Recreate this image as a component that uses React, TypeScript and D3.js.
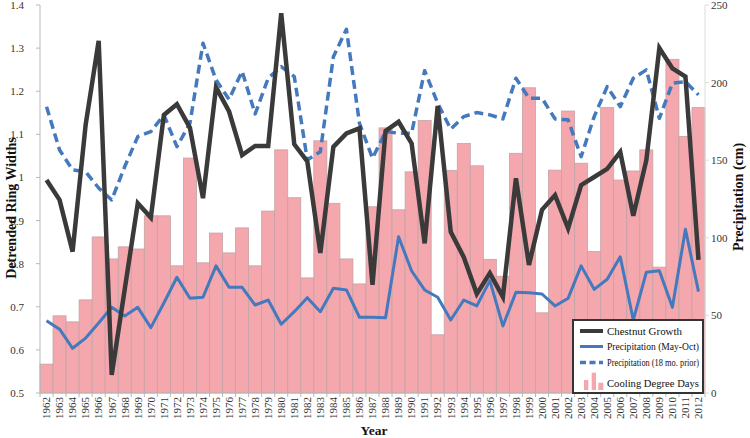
import React from "react";
import * as d3 from "d3";

const years: number[] = d3.range(1962, 2013);

// Detrended ring widths (left axis)
const chestnutGrowth: number[] = [
  0.994, 0.948, 0.828, 1.122, 1.317, 0.542, 0.741, 0.94, 0.907, 1.145,
  1.17, 1.115, 0.952, 1.209, 1.153, 1.052, 1.073, 1.073, 1.381, 1.077,
  1.037, 0.825, 1.071, 1.102, 1.114, 0.751, 1.108, 1.129, 1.079, 0.847,
  1.166, 0.874, 0.815, 0.73, 0.778, 0.723, 0.998, 0.797, 0.925, 0.959,
  0.882, 0.982, 1.001, 1.02, 1.059, 0.911, 1.04, 1.3, 1.253, 1.234, 0.809,
];

// Precipitation May-Oct (cm, right axis)
const precipMayOct: number[] = [
  46.6, 41.1, 28.8, 35.4, 45.1, 55.2, 49.6, 55.2, 42.1, 58.0,
  74.6, 61.0, 61.7, 81.9, 68.1, 68.1, 56.7, 59.9, 44.3, 52.4,
  61.4, 52.4, 67.5, 66.4, 48.8, 48.8, 48.5, 100.7, 78.6, 66.4,
  61.7, 47.0, 59.9, 56.1, 72.4, 43.2, 64.9, 64.6, 63.8, 56.1,
  61.0, 81.9, 66.8, 73.3, 87.8, 47.0, 77.8, 78.8, 55.2, 105.5, 65.3,
];

// Precipitation 18 months prior (cm, right axis)
const precip18mo: number[] = [
  184.5, 156.6, 143.7, 142.6, 132.1, 124.4, 145.9, 165.2, 168.4, 179.2,
  158.7, 173.8, 225.4, 201.7, 189.2, 207.3, 179.8, 202.8, 210.3, 203.9,
  150.2, 155.5, 216.7, 234.4, 173.8, 151.3, 168.4, 167.4, 167.4, 207.7,
  186.7, 170.0, 178.1, 180.7, 179.2, 176.6, 202.8, 189.9, 189.9, 176.6,
  176.0, 152.3, 178.1, 197.4, 184.5, 202.8, 208.2, 177.0, 199.6, 200.6, 192.1,
];

// Cooling degree days (relative index on hidden axis)
const coolingDegreeDays: number[] = [
  0.567, 0.679, 0.665, 0.716, 0.862, 0.811, 0.839, 0.834, 0.911, 0.911,
  0.795, 1.045, 0.802, 0.871, 0.825, 0.883, 0.795, 0.922, 1.064, 0.953,
  0.767, 1.085, 0.94, 0.811, 0.753, 0.932, 1.115, 0.925, 1.013, 1.132,
  0.635, 1.016, 1.079, 1.027, 0.81, 0.771, 1.056, 1.208, 0.686, 1.017,
  1.154, 1.033, 0.828, 1.162, 0.994, 1.015, 1.064, 0.792, 1.274, 1.095, 1.162,
];

const leftTicks: number[] = [0.5, 0.6, 0.7, 0.8, 0.9, 1.0, 1.1, 1.2, 1.3, 1.4];
const rightTicks: number[] = [0, 50, 100, 150, 200, 250];

const legendLabels: string[] = [
  "Chestnut Growth",
  "Precipitation (May-Oct)",
  "Precipitation (18 mo. prior)",
  "Cooling Degree Days",
];

const FONT = "'Liberation Serif', 'Times New Roman', Times, serif";

export default function App() {
  const W = 750, H = 438;
  const left = 40, right = 705, top = 5, bottom = 393;

  const x = d3.scaleBand<string>().domain(years.map(String)).range([left, right]).padding(0);
  const yL = d3.scaleLinear().domain([0.5, 1.4]).range([bottom, top]);
  const yR = d3.scaleLinear().domain([0, 250]).range([bottom, top]);
  const yC = d3.scaleLinear().domain([0.5, 1.4]).range([bottom, top]);
  const cx = (i: number) => (x(String(years[i])) as number) + x.bandwidth() / 2;

  const lineL = d3.line<number>().x((_, i) => cx(i)).y((d) => yL(d));
  const lineR = d3.line<number>().x((_, i) => cx(i)).y((d) => yR(d));

  const blue = "#4479BE";
  const dark = "#3a3a3a";
  const axisColor = "#b8b8b8";

  const leftFmt = (v: number) => (v === 1 ? "1" : d3.format(".1f")(v));

  return (
    <svg width={W} height={H} style={{ position: "absolute", left: 0, top: 0, background: "#fff" }} fontFamily={FONT}>
      <rect x={0} y={0} width={W} height={H} fill="#fff" />
      {/* bars */}
      {coolingDegreeDays.map((v, i) => (
        <rect
          key={"b" + i}
          x={x(String(years[i])) as number}
          y={yC(v)}
          width={x.bandwidth()}
          height={bottom - yC(v)}
          fill="#F4A7AD"
          stroke="#C4A3A5"
          strokeWidth={0.8}
        />
      ))}
      {/* left axis */}
      <line x1={left} x2={left} y1={top} y2={bottom} stroke={axisColor} />
      {leftTicks.map((t) => (
        <g key={"l" + t}>
          <line x1={left - 4} x2={left} y1={yL(t)} y2={yL(t)} stroke={axisColor} />
          <text x={24} y={yL(t) + 4} textAnchor="end" fontSize={11} fill="#333">
            {leftFmt(t)}
          </text>
        </g>
      ))}
      {/* right axis */}
      <line x1={right} x2={right} y1={top} y2={bottom} stroke="#dcdcdc" />
      {rightTicks.map((t) => (
        <g key={"r" + t}>
          <line x1={right} x2={right + 4} y1={yR(t)} y2={yR(t)} stroke="#dcdcdc" />
          <text x={711} y={yR(t) + 4} textAnchor="start" fontSize={11} fill="#333">
            {t}
          </text>
        </g>
      ))}
      {/* x axis */}
      <line x1={left} x2={right} y1={bottom} y2={bottom} stroke={axisColor} />
      {years.map((yr, i) => (
        <g key={"x" + yr}>
          <line
            x1={x(String(yr)) as number}
            x2={x(String(yr)) as number}
            y1={bottom}
            y2={bottom + 4}
            stroke={axisColor}
          />
          <text
            transform={`translate(${cx(i) + 3.8},${bottom + 4}) rotate(-90)`}
            textAnchor="end"
            fontSize={11}
            fill="#333"
          >
            {yr}
          </text>
        </g>
      ))}
      <line x1={right} x2={right} y1={bottom} y2={bottom + 4} stroke={axisColor} />

      {/* lines */}
      <path d={lineR(precipMayOct) || ""} fill="none" stroke={blue} strokeWidth={3} strokeLinejoin="round" />
      <path
        d={lineR(precip18mo) || ""}
        fill="none"
        stroke={blue}
        strokeWidth={3.5}
        strokeDasharray="9,5"
        strokeLinejoin="round"
      />
      <path d={lineL(chestnutGrowth) || ""} fill="none" stroke={dark} strokeWidth={4.5} strokeLinejoin="miter" />

      {/* axis titles */}
      <text transform="translate(16,208) rotate(-90)" textAnchor="middle" fontSize={14} fontWeight="bold" fill="#111">
        Detrended Ring Widths
      </text>
      <text transform="translate(743,197) rotate(-90)" textAnchor="middle" fontSize={14} fontWeight="bold" fill="#111">
        Precipitation (cm)
      </text>
      <text x={374} y={435} textAnchor="middle" fontSize={13.5} fontWeight="bold" fill="#111">
        Year
      </text>

      {/* legend */}
      <g>
        <rect x={573} y={320} width={130} height={73} fill="#fff" stroke="#333" strokeWidth={2} />
        <line x1={580} x2={603} y1={331} y2={331} stroke={dark} strokeWidth={4} />
        <text x={607} y={335} fontSize={11} fill="#111" textLength={75} lengthAdjust="spacingAndGlyphs">
          {legendLabels[0]}
        </text>
        <line x1={580} x2={603} y1={346.5} y2={346.5} stroke={blue} strokeWidth={3} />
        <text x={607} y={350} fontSize={10} fill="#111" textLength={92} lengthAdjust="spacingAndGlyphs">
          {legendLabels[1]}
        </text>
        <line x1={580} x2={603} y1={362.5} y2={362.5} stroke={blue} strokeWidth={3.5} strokeDasharray="6,3.5" />
        <text x={607} y={366} fontSize={10.5} fill="#111" textLength={92} lengthAdjust="spacingAndGlyphs">
          {legendLabels[2]}
        </text>
        <rect x={584} y={380} width={4.3} height={10} fill="#F4A7AD" />
        <rect x={591.7} y={372.7} width={4.3} height={17.3} fill="#F4A7AD" />
        <rect x={598.3} y={382.7} width={5} height={7.3} fill="#F4A7AD" />
        <text x={607} y={387} fontSize={11} fill="#111" textLength={92} lengthAdjust="spacingAndGlyphs">
          {legendLabels[3]}
        </text>
      </g>
    </svg>
  );
}
